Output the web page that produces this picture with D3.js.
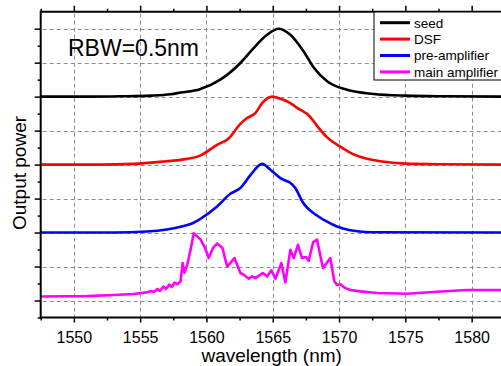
<!DOCTYPE html>
<html>
<head>
<meta charset="utf-8">
<script src="https://cdn.jsdelivr.net/npm/d3@7/dist/d3.min.js"></script>
<style>
  body { margin: 0; background: #fff; }
  svg { display: block; font-family: "Liberation Sans", Arial, sans-serif; }
</style>
</head>
<body>
<svg id="chart" width="501" height="366"></svg>
<script>
// wavelength (nm) vs stacked, normalised output power
const xMajor = [1550, 1555, 1560, 1565, 1570, 1575, 1580];
const xMinor = [1547.5, 1552.5, 1557.5, 1562.5, 1567.5, 1572.5, 1577.5, 1582.5];
const yMajor = [0, 1, 2, 3, 4, 5, 6, 7, 8];
const yMinor = [-0.5, 0.5, 1.5, 2.5, 3.5, 4.5, 5.5, 6.5, 7.5];

const seriesNames = ['seed', 'DSF', 'pre-amplifier', 'main amplifier'];
const seriesColors = ['#000000', '#ff0000', '#0000ff', '#ff00ff'];

const seed = [
  [1547.5, 6.0], [1551, 6.0], [1553.5, 6.01], [1555.8, 6.03], [1557.3, 6.07],
  [1558.05, 6.12], [1559.5, 6.22], [1561.05, 6.5], [1562.56, 6.99], [1563.56, 7.43],
  [1564.57, 7.82], [1565.45, 8.0], [1566.33, 7.82], [1567.33, 7.33], [1568.09, 6.86],
  [1569.1, 6.45], [1570.6, 6.2], [1572.6, 6.08], [1575, 6.03], [1578, 6.01], [1582.5, 6.0]
];

const dsf = [
  [1547.5, 4.0], [1552, 4.0], [1554.5, 4.02], [1557, 4.1], [1558.05, 4.14],
  [1559.55, 4.27], [1560.8, 4.58], [1561.65, 4.76], [1562.56, 5.2], [1563.07, 5.37],
  [1563.7, 5.52], [1564.2, 5.81], [1564.95, 6.0], [1565.4, 5.96], [1566.2, 5.84],
  [1566.84, 5.67], [1567.84, 5.4], [1568.34, 5.14], [1569.1, 4.8], [1570.1, 4.53],
  [1571.1, 4.3], [1572.1, 4.17], [1573.1, 4.1], [1575, 4.03], [1578, 4.01], [1582.5, 4.0]
];

const preAmp = [
  [1547.5, 2.0], [1553, 2.0], [1555.5, 2.03], [1557.0, 2.09], [1558.05, 2.17],
  [1558.8, 2.25], [1559.6, 2.42], [1560.8, 2.77], [1561.8, 3.14], [1562.56, 3.31],
  [1563.3, 3.68], [1564.2, 4.02], [1564.82, 3.85], [1565.58, 3.6], [1566.46, 3.42],
  [1566.7, 3.31], [1567.25, 2.9], [1568.34, 2.5], [1569.34, 2.27], [1569.85, 2.18],
  [1570.35, 2.11], [1571.36, 2.04], [1572.5, 2.01], [1582.5, 2.0]
];

const mainAmp = [
  [1547.5, 0.12], [1551, 0.13], [1553, 0.16], [1554.5, 0.19], [1555.5, 0.24],
  [1555.8, 0.28], [1556.05, 0.25], [1556.3, 0.34], [1556.5, 0.28], [1556.75, 0.41],
  [1556.95, 0.34], [1557.2, 0.47], [1557.4, 0.4], [1557.6, 0.53], [1557.8, 0.48],
  [1558.05, 0.56], [1558.2, 1.1], [1558.35, 0.82], [1558.55, 1.05], [1558.8, 1.49],
  [1559.04, 1.98], [1559.55, 1.8], [1559.9, 1.54], [1560.17, 1.25], [1560.5, 1.55],
  [1560.81, 1.68], [1561.2, 1.55], [1561.56, 1.0], [1561.8, 1.1], [1562.11, 1.25],
  [1562.56, 0.81], [1562.8, 0.76], [1563.2, 0.64], [1563.44, 0.71], [1563.69, 0.66],
  [1564.25, 0.81], [1564.57, 0.71], [1564.9, 0.89], [1565.2, 0.64], [1565.65, 1.1],
  [1565.95, 0.53], [1566.33, 1.49], [1566.58, 1.25], [1566.9, 1.64], [1567.21, 1.25],
  [1567.5, 1.28], [1567.71, 1.17], [1568.05, 1.72], [1568.34, 1.79], [1568.79, 0.95],
  [1569.34, 1.25], [1569.65, 0.56], [1569.85, 0.46], [1570.1, 0.48], [1570.4, 0.38],
  [1570.85, 0.31], [1571.6, 0.27], [1572.9, 0.22], [1575.1, 0.2], [1577.4, 0.26],
  [1579.6, 0.31], [1582.5, 0.31]
];

const allSeries = [seed, dsf, preAmp, mainAmp];

const svg = d3.select('#chart');
const plot = { left: 40.7, right: 504.8, top: 11.7, bottom: 317.5 };

const x = d3.scaleLinear().domain([1547.5, 1582.5]).range([plot.left, plot.right]);
const y = d3.scaleLinear().domain([-0.5, 8.5]).range([plot.bottom, plot.top]);

// dashed grid at the major ticks, each dash a small filled rect
const dashLen = 4, dashGap = 3;
const gridDashes = [];
xMajor.forEach((v) => {
  const px = Math.round(x(v));
  d3.range(plot.top + 2, plot.bottom - 1, dashLen + dashGap).forEach((s) => {
    gridDashes.push({ x: px, y: s, w: 1, h: Math.min(dashLen, plot.bottom - s) });
  });
});
yMajor.forEach((v) => {
  const py = Math.round(y(v));
  d3.range(plot.left + 2, plot.right, dashLen + dashGap).forEach((s) => {
    gridDashes.push({ x: s, y: py, w: dashLen, h: 1 });
  });
});
svg.append('g').attr('class', 'dash-grid')
  .selectAll('rect').data(gridDashes).join('rect')
  .attr('x', (d) => d.x).attr('y', (d) => d.y)
  .attr('width', (d) => d.w).attr('height', (d) => d.h)
  .attr('fill', '#8c8c8c');

// curves
const smooth = d3.line().x((d) => x(d[0])).y((d) => y(d[1])).curve(d3.curveMonotoneX);
const jagged = d3.line().x((d) => x(d[0])).y((d) => y(d[1]));

svg.append('g').attr('class', 'curves')
  .selectAll('path').data(allSeries).join('path')
  .attr('fill', 'none')
  .attr('stroke', (d, i) => seriesColors[i])
  .attr('stroke-width', 2.6)
  .attr('stroke-linejoin', 'round')
  .attr('d', (d, i) => (i === 3 ? jagged(d) : smooth(d)));

// axes: ticks outside, no y labels
function styleAxis(g) {
  g.select('.domain').remove();
  g.selectAll('line').attr('stroke', '#000').attr('stroke-width', 1.5);
}

svg.append('g')
  .attr('transform', `translate(0,${plot.bottom})`)
  .call(d3.axisBottom(x).tickValues(xMajor).tickSize(5).tickPadding(9).tickFormat(d3.format('d')))
  .call(styleAxis)
  .call((g) => g.selectAll('text').attr('fill', '#000').style('font-size', '16px')
    .style('font-family', '"Liberation Sans", Arial, sans-serif'));
svg.append('g')
  .attr('transform', `translate(0,${plot.bottom})`)
  .call(d3.axisBottom(x).tickValues(xMinor).tickSize(3).tickFormat(''))
  .call(styleAxis);

svg.append('g')
  .attr('transform', `translate(0,${plot.top})`)
  .call(d3.axisTop(x).tickValues(xMajor).tickSize(6).tickFormat(''))
  .call(styleAxis);
svg.append('g')
  .attr('transform', `translate(0,${plot.top})`)
  .call(d3.axisTop(x).tickValues(xMinor).tickSize(3).tickFormat(''))
  .call(styleAxis);

svg.append('g')
  .attr('transform', `translate(${plot.left},0)`)
  .call(d3.axisLeft(y).tickValues(yMajor).tickSize(6).tickFormat(''))
  .call(styleAxis);
svg.append('g')
  .attr('transform', `translate(${plot.left},0)`)
  .call(d3.axisLeft(y).tickValues(yMinor).tickSize(3).tickFormat(''))
  .call(styleAxis);

// frame lines (right side falls outside the picture)
const frame = svg.append('g').attr('stroke', '#000').attr('stroke-width', 2);
frame.append('line').attr('x1', plot.left).attr('x2', plot.right).attr('y1', plot.top).attr('y2', plot.top);
frame.append('line').attr('x1', plot.left).attr('x2', plot.right).attr('y1', plot.bottom).attr('y2', plot.bottom);
frame.append('line').attr('x1', plot.left).attr('x2', plot.left).attr('y1', plot.top - 1).attr('y2', plot.bottom + 1);

// labels
svg.append('text')
  .attr('x', 271.7).attr('y', 362)
  .attr('text-anchor', 'middle')
  .style('font-size', '19px')
  .text('wavelength (nm)');

svg.append('text')
  .attr('transform', 'translate(26,173) rotate(-90)')
  .attr('text-anchor', 'middle')
  .style('font-size', '19px')
  .text('Output power');

svg.append('text')
  .attr('x', 68).attr('y', 56)
  .style('font-size', '23px')
  .text('RBW=0.5nm');

// legend
const legend = svg.append('g').attr('transform', 'translate(374,12)');
legend.append('rect')
  .attr('width', 134).attr('height', 68)
  .attr('fill', '#fff').attr('stroke', '#000').attr('stroke-width', 1);
const rows = legend.selectAll('g.row').data(seriesNames).join('g')
  .attr('class', 'row')
  .attr('transform', (d, i) => `translate(0,${10.7 + i * 16.4})`);
rows.append('line')
  .attr('x1', 6).attr('x2', 36)
  .attr('stroke', (d, i) => seriesColors[i])
  .attr('stroke-width', 3);
rows.append('text')
  .attr('x', 40).attr('y', 4.8)
  .style('font-size', '13.5px')
  .text((d) => d);
</script>
</body>
</html>
